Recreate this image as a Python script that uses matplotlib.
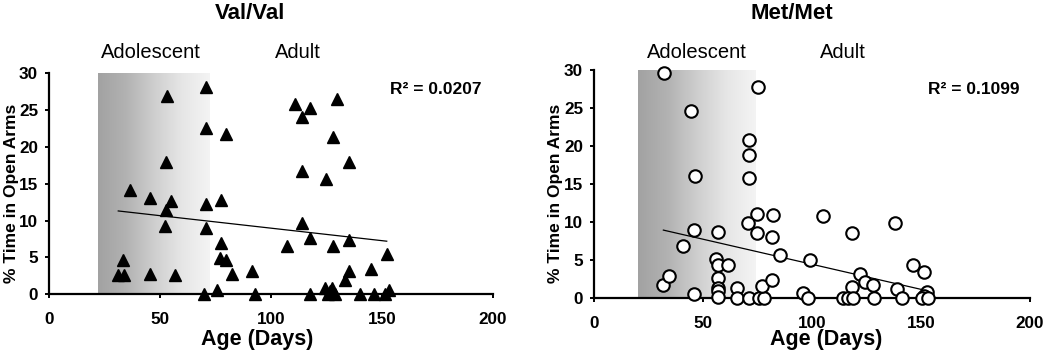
import numpy as np
import matplotlib
matplotlib.use("Agg")
import matplotlib.pyplot as plt
from matplotlib.colors import LinearSegmentedColormap

plt.rcParams['font.family'] = ['Liberation Sans', 'DejaVu Sans']

# Val/Val group: age (days) vs % time in open arms
val_age = [36.4, 45.4, 52.9, 52.5, 54.7, 52.5, 52.2, 33.4, 31.1, 33.7, 45.4, 56.7,
           70.5, 70.5, 79.5, 70.5, 77.3, 70.5, 77.3, 77.0, 79.5, 82.6, 69.8, 75.8,
           91.6, 92.8, 110.8, 114.1, 117.6, 129.6, 128.1, 135.2, 114.1, 124.7, 114.1,
           117.6, 107.4, 128.1, 135.2, 152.5, 135.2, 133.6, 145.0, 117.6, 124.4, 125.6,
           127.4, 128.9, 126.5, 140.1, 146.4, 151.4, 153.0]
val_time = [14.1, 13.0, 26.9, 18.0, 12.6, 11.4, 9.2, 4.6, 2.6, 2.6, 2.7, 2.6,
            28.1, 22.6, 21.8, 12.3, 12.8, 9.0, 6.9, 4.9, 4.6, 2.8, 0.0, 0.6,
            3.2, 0.0, 25.8, 24.1, 25.3, 26.5, 21.3, 17.9, 16.7, 15.6, 9.6,
            7.7, 6.5, 6.6, 7.4, 5.5, 3.1, 1.9, 3.4, 0.0, 0.8, 0.1,
            0.9, 0.0, 0.5, 0.0, 0.0, 0.0, 0.6]
val_fit_x = [31.1, 152.2]
val_fit_y = [11.3, 7.2]
val_r2 = "R\u00b2 = 0.0207"

# Met/Met group
met_age = [32.1, 44.4, 46.2, 45.9, 40.9, 31.7, 34.3, 45.9, 56.9, 55.8, 56.6, 61.5,
           56.9, 56.9, 56.9, 56.9, 65.6, 65.6, 71.0, 75.7, 77.9, 76.8, 81.7, 75.0,
           71.0, 71.0, 71.0, 74.8, 70.4, 81.9, 74.8, 81.7, 85.2, 99.0, 105.1, 118.1,
           138.0, 122.0, 124.4, 128.1, 146.1, 151.3, 138.8, 118.1, 152.6, 151.5, 95.6,
           98.2, 114.0, 116.6, 118.9, 128.5, 141.1, 150.3, 153.3]
met_time = [29.6, 24.6, 16.0, 8.9, 6.8, 1.7, 2.9, 0.5, 8.7, 5.1, 4.3, 4.3,
            2.6, 1.2, 0.9, 0.1, 1.2, 0.0, 0.0, 0.0, 0.0, 1.5, 2.3, 27.8,
            20.8, 18.8, 15.8, 11.0, 9.9, 10.9, 8.5, 8.0, 5.6, 5.0, 10.7, 8.5,
            9.9, 3.1, 2.1, 1.7, 4.3, 3.4, 1.1, 1.4, 0.7, 0.2, 0.6,
            0.0, 0.0, 0.0, 0.0, 0.0, 0.0, 0.0, 0.0]
met_fit_x = [31.7, 152.6]
met_fit_y = [8.9, 0.9]
met_r2 = "R\u00b2 = 0.1099"

# adolescent window (days) shown as shaded band
val_band = [22, 72.5]
met_band = [20, 74]

xticks = [0, 50, 100, 150, 200]
yticks = [0, 5, 10, 15, 20, 25, 30]

fig = plt.figure(figsize=(10.5, 3.59), dpi=100)
ax1 = fig.add_axes([0.04695, 0.1802, 0.4223, 0.6164])
ax2 = fig.add_axes([0.566, 0.1713, 0.415, 0.6329])

band_cmap = LinearSegmentedColormap.from_list(
    'band', ['#a2a2a2', '#b2b2b2', '#cecece', '#e6e6e6', '#f4f4f4'])
grad = np.linspace(0, 1, 256).reshape(1, -1)


def style(ax, title, title_x, band, r2, r2_xy, adol_x, adult_x, lab_y, xlab_x, ylab_x):
    ax.imshow(grad, cmap=band_cmap, extent=[band[0], band[1], 0, 30.3],
              aspect='auto', zorder=0, interpolation='bicubic')
    ax.set_xlim(0, 200)
    ax.set_ylim(0, 30)
    ax.set_xticks(xticks)
    ax.set_yticks(yticks)
    for s in ['top', 'right']:
        ax.spines[s].set_visible(False)
    for s in ['left', 'bottom']:
        ax.spines[s].set_linewidth(1.6)
    ax.tick_params(direction='out', length=3, width=1.4, labelsize=12.3)
    ax.tick_params(axis='x', pad=10)
    ax.tick_params(axis='y', pad=5)
    for lab in ax.get_xticklabels() + ax.get_yticklabels():
        lab.set_fontweight('bold')
    ax.text(r2_xy[0], r2_xy[1], r2, fontsize=12.5, fontweight='bold',
            ha='left', va='center')
    ax.text(adol_x, lab_y, 'Adolescent', fontsize=14.5, ha='center', va='center',
            clip_on=False)
    ax.text(adult_x, lab_y, 'Adult', fontsize=14.5, ha='center', va='center',
            clip_on=False)
    fig.text(title_x, 0.962, title, fontsize=16, fontweight='bold',
             ha='center', va='center')
    fig.text(xlab_x, 0.055, 'Age (Days)', fontsize=15.5, fontweight='bold',
             ha='center', va='center')
    fig.text(ylab_x, 0.462, '% Time in Open Arms', fontsize=12.5, fontweight='bold',
             rotation=90, ha='center', va='center')


style(ax1, 'Val/Val', 0.238, val_band, val_r2, (153.7, 27.7), 45.7, 112, 32.8,
      0.245, 0.0105)
style(ax2, 'Met/Met', 0.754, met_band, met_r2, (153, 27.4), 47.1, 114, 32.3,
      0.787, 0.5295)

ax1.plot(val_fit_x, val_fit_y, color='black', lw=0.9, zorder=2)
ax1.plot(val_age, val_time, linestyle='none', marker='^', markersize=8.5,
         color='black', zorder=3, clip_on=False)

ax2.plot(met_fit_x, met_fit_y, color='black', lw=0.9, zorder=2)
ax2.plot(met_age, met_time, linestyle='none', marker='o', markersize=9,
         markerfacecolor='white', markeredgecolor='black', markeredgewidth=1.5,
         zorder=3, clip_on=False)

fig.savefig('out.png', dpi=100)
